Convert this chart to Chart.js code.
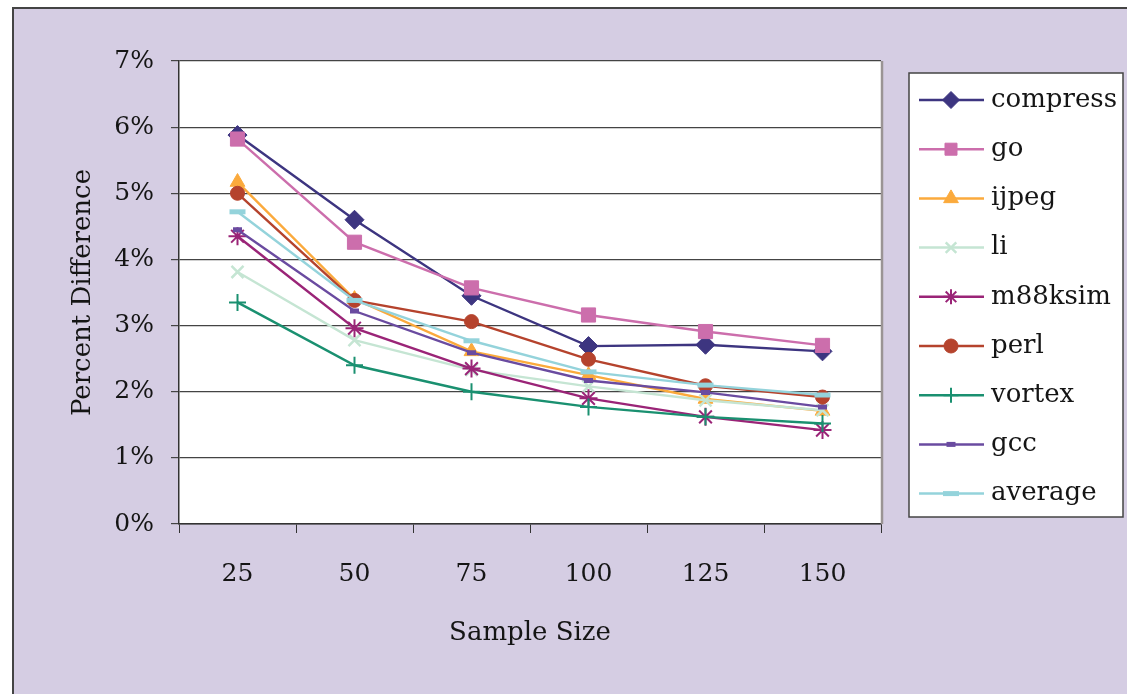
<!DOCTYPE html>
<html>
<head>
<meta charset="utf-8">
<script src="https://cdn.jsdelivr.net/npm/chart.js@4.4.1/dist/chart.umd.min.js"></script>
<style>
  html, body { margin: 0; padding: 0; background: #fff; }
  canvas { display: block; }
</style>
</head>
<body>
<canvas id="myChart" width="1127" height="694"></canvas>
<script>
// data (percent)
const sampleSizes = ['25', '50', '75', '100', '125', '150'];
const compress = [5.88, 4.60, 3.45, 2.69, 2.71, 2.61];
const go       = [5.82, 4.26, 3.57, 3.16, 2.91, 2.70];
const ijpeg    = [5.17, 3.40, 2.61, 2.25, 1.89, 1.71];
const li       = [3.81, 2.78, 2.33, 2.08, 1.87, 1.72];
const m88ksim  = [4.35, 2.96, 2.35, 1.90, 1.62, 1.42];
const perl     = [5.00, 3.38, 3.06, 2.49, 2.09, 1.92];
const vortex   = [3.35, 2.40, 2.00, 1.77, 1.62, 1.52];
const gcc      = [4.45, 3.22, 2.59, 2.17, 1.99, 1.77];
const average  = [4.72, 3.38, 2.77, 2.30, 2.10, 1.95];
const yMin = 0, yMax = 7;

const FONT = '"DejaVu Serif", serif';
const TEXT = '#151515';

const series = [
  { label: 'compress', data: compress, color: '#3d3580', style: 'rectRot',  r: 9.5, lr: 8.5, bw: 1 },
  { label: 'go',       data: go,       color: '#cc6eac', style: 'rect',     r: 10,  lr: 8.5, bw: 1 },
  { label: 'ijpeg',    data: ijpeg,    color: '#fbaa3c', style: 'triangle', r: 8.5, lr: 8.5, bw: 1 },
  { label: 'li',       data: li,       color: '#c5e5d3', style: 'crossRot', r: 8.5, lr: 7.5, bw: 2.5 },
  { label: 'm88ksim',  data: m88ksim,  color: '#9a2477', style: 'star',     r: 9,   lr: 7.5, bw: 2 },
  { label: 'perl',     data: perl,     color: '#b5432d', style: 'circle',   r: 7,   lr: 7,   bw: 1 },
  { label: 'vortex',   data: vortex,   color: '#1a9070', style: 'cross',    r: 8.5, lr: 7.5, bw: 2 },
  { label: 'gcc',      data: gcc,      color: '#6a4ba0', style: 'line',     r: 4.5, lr: 4.5, bw: 5 },
  { label: 'average',  data: average,  color: '#94d3db', style: 'line',     r: 8,   lr: 8,   bw: 5 }
];

const datasets = series.map((s, i) => ({
  label: s.label,
  data: s.data,
  borderColor: s.color,
  backgroundColor: s.color,
  pointBackgroundColor: s.color,
  pointBorderColor: s.color,
  pointStyle: s.style,
  pointRadius: s.r,
  pointBorderWidth: s.bw,
  borderWidth: 2.4,
  tension: 0,
  order: series.length - i,
  legendRadius: s.lr
}));

const frame = {
  id: 'frame',
  beforeDraw(chart) {
    const ctx = chart.ctx;
    const a = chart.chartArea;
    ctx.save();
    ctx.fillStyle = '#fff';
    ctx.fillRect(0, 0, chart.width, chart.height);
    ctx.fillStyle = '#d5cde3';
    ctx.fillRect(12, 7, chart.width, chart.height);
    ctx.strokeStyle = '#444';
    ctx.lineWidth = 2;
    ctx.beginPath();
    ctx.moveTo(13, chart.height);
    ctx.lineTo(13, 8);
    ctx.lineTo(chart.width, 8);
    ctx.stroke();
    ctx.fillStyle = '#fff';
    ctx.fillRect(a.left, a.top, a.right - a.left, a.bottom - a.top);
    ctx.restore();
  },
  afterDatasetsDraw(chart) {
    const ctx = chart.ctx;
    const a = chart.chartArea;
    ctx.save();
    ctx.strokeStyle = '#9a9494';
    ctx.lineWidth = 2.5;
    ctx.beginPath();
    ctx.moveTo(a.right + 1, a.top);
    ctx.lineTo(a.right + 1, a.bottom);
    ctx.stroke();
    ctx.restore();
  }
};

const legendBox = {
  id: 'legendBox',
  afterDraw(chart) {
    const ctx = chart.ctx;
    const x0 = 909, y0 = 73, w = 214, h = 444;
    ctx.save();
    ctx.fillStyle = '#fff';
    ctx.fillRect(x0, y0, w, h);
    ctx.strokeStyle = '#444';
    ctx.lineWidth = 1.5;
    ctx.strokeRect(x0, y0, w, h);
    chart.data.datasets.forEach((ds, i) => {
      const y = 100 + i * 49.2;
      ctx.strokeStyle = ds.borderColor;
      ctx.lineWidth = 2.5;
      ctx.beginPath();
      ctx.moveTo(919, y);
      ctx.lineTo(984, y);
      ctx.stroke();
      ctx.fillStyle = ds.borderColor;
      ctx.lineWidth = ds.pointBorderWidth;
      Chart.helpers.drawPoint(ctx, {
        pointStyle: ds.pointStyle,
        radius: ds.legendRadius,
        borderWidth: ds.pointBorderWidth,
        rotation: 0
      }, 951, y);
      ctx.fillStyle = TEXT;
      ctx.font = '26px ' + FONT;
      ctx.textAlign = 'left';
      ctx.textBaseline = 'middle';
      ctx.fillText(ds.label, 991, y);
    });
    ctx.restore();
  }
};

const ctx = document.getElementById('myChart').getContext('2d');
const chart = new Chart(ctx, {
  type: 'line',
  data: { labels: sampleSizes, datasets },
  options: {
    responsive: false,
    animation: false,
    layout: { padding: { top: 61, right: 246, left: 0, bottom: 0 } },
    plugins: {
      legend: { display: false },
      tooltip: { enabled: false }
    },
    scales: {
      x: {
        offset: true,
        grid: { offset: true, drawOnChartArea: false, drawTicks: true, tickLength: 9, color: '#333', lineWidth: 1 },
        border: { display: true, color: '#333', width: 1.5 },
        ticks: { color: TEXT, font: { family: FONT, size: 25 }, padding: 26, maxRotation: 0 },
        title: { display: true, text: 'Sample Size', color: TEXT, font: { family: FONT, size: 26 }, padding: { top: 0, bottom: 45 } },
        afterFit(scale) { scale.height = 170; }
      },
      y: {
        min: yMin,
        max: yMax,
        ticks: { stepSize: 1, color: TEXT, font: { family: FONT, size: 25 }, padding: 17,
                 callback: v => v + '%' },
        grid: { color: '#444', lineWidth: 1.2, tickLength: 8 },
        border: { display: true, color: '#333', width: 1.5 },
        title: { display: true, text: 'Percent Difference', color: TEXT, font: { family: FONT, size: 26 }, padding: { top: 68, bottom: 0 } },
        afterFit(scale) { scale.width = 179; }
      }
    }
  },
  plugins: [frame, legendBox]
});
</script>
</body>
</html>
